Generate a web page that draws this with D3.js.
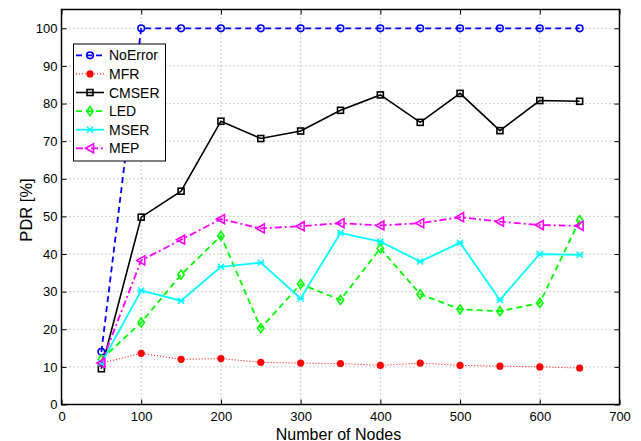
<!DOCTYPE html>
<html><head><meta charset="utf-8">
<script src="https://cdn.jsdelivr.net/npm/d3@7"></script>
<style>body{margin:0;background:#fff}svg{display:block}text{font-family:"Liberation Sans",Arial,Helvetica,sans-serif}</style>
</head><body><div id="c"></div>
<script>
const nodes = [50,100,150,200,250,300,350,400,450,500,550,600,650];
const noError = [14,100,100,100,100,100,100,100,100,100,100,100,100];
const mfr = [11,13.6,12,12.2,11.2,11,10.9,10.4,11,10.4,10.2,10,9.7];
const cmser = [9.5,49.8,56.7,75.3,70.7,72.7,78.2,82.3,75,82.7,72.8,80.8,80.6];
const led = [12,21.8,34.5,44.8,20.3,32,27.8,41.5,29.3,25.3,24.8,27,49];
const mser = [11,30.3,27.6,36.6,37.7,28.2,45.6,43.3,38,43,27.8,40,39.8];
const mep = [11,38.3,43.8,49.3,46.8,47.4,48.2,47.6,48.2,49.8,48.6,47.7,47.5];
const xTicks = [0,100,200,300,400,500,600,700];
const yTicks = [0,10,20,30,40,50,60,70,80,90,100];
const seriesNames = ["NoError","MFR","CMSER","LED","MSER","MEP"];

const W=641,H=441;
const L=61.5,R=619.5,T=9.5,B=404.5;
const svg=d3.select("#c").append("svg").attr("width",W).attr("height",H);
const x=d3.scaleLinear().domain([0,700]).range([L,R]);
const y=d3.scaleLinear().domain([0,105]).range([B,T]);

// grid
const g=svg.append("g");
g.selectAll(".gx").data(xTicks.slice(1,-1)).enter().append("line")
 .attr("x1",d=>x(d)).attr("x2",d=>x(d)).attr("y1",T).attr("y2",B)
 .attr("stroke","#a0a0a0").attr("stroke-width",1).attr("stroke-dasharray","1,3");
g.selectAll(".gy").data(yTicks.slice(1)).enter().append("line")
 .attr("y1",d=>y(d)).attr("y2",d=>y(d)).attr("x1",L).attr("x2",R)
 .attr("stroke","#a0a0a0").attr("stroke-width",1).attr("stroke-dasharray","1,3");

// axes
const ax=svg.append("g").attr("transform",`translate(0,${B})`).call(d3.axisBottom(x).tickValues(xTicks).tickSizeInner(-5).tickSizeOuter(0).tickPadding(7));
const ay=svg.append("g").attr("transform",`translate(${L},0)`).call(d3.axisLeft(y).tickValues(yTicks).tickSizeInner(-5).tickSizeOuter(0).tickPadding(4));
const ax2=svg.append("g").attr("transform",`translate(0,${T})`).call(d3.axisTop(x).tickValues(xTicks).tickSizeInner(-5).tickSizeOuter(0).tickFormat(""));
const ay2=svg.append("g").attr("transform",`translate(${R},0)`).call(d3.axisRight(y).tickValues(yTicks).tickSizeInner(-5).tickSizeOuter(0).tickFormat(""));
[ax,ay,ax2,ay2].forEach(a=>{a.select(".domain").remove();a.selectAll("line").attr("stroke","#000");a.selectAll("text").attr("font-size",13).attr("fill","#000").attr("font-family","Liberation Sans, Arial, sans-serif");});
svg.append("rect").attr("x",L).attr("y",T).attr("width",R-L).attr("height",B-T).attr("fill","none").attr("stroke","#000").attr("stroke-width",1.5);

svg.append("text").attr("x",(L+R)/2-2).attr("y",439.5).attr("text-anchor","middle").attr("font-size",16).text("Number of Nodes");
svg.append("text").attr("transform",`translate(32,210) rotate(-90)`).attr("text-anchor","middle").attr("font-size",16.5).text("PDR [%]");

// markers
function marker(sel,type,color,cx,cy){
  if(type==="circle") sel.append("circle").attr("cx",cx).attr("cy",cy).attr("r",3.3).attr("fill","none").attr("stroke",color).attr("stroke-width",1.6);
  else if(type==="dot") sel.append("circle").attr("cx",cx).attr("cy",cy).attr("r",3.6).attr("fill",color);
  else if(type==="square") sel.append("rect").attr("x",cx-3).attr("y",cy-3).attr("width",6).attr("height",6).attr("fill","none").attr("stroke",color).attr("stroke-width",1.6);
  else if(type==="diamond") sel.append("path").attr("d",`M${cx},${cy-4.5}L${cx+3.2},${cy}L${cx},${cy+4.5}L${cx-3.2},${cy}Z`).attr("fill","none").attr("stroke",color).attr("stroke-width",1.6);
  else if(type==="x") sel.append("path").attr("d",`M${cx-3},${cy-3}L${cx+3},${cy+3}M${cx-3},${cy+3}L${cx+3},${cy-3}M${cx-3.5},${cy}L${cx+3.5},${cy}`).attr("stroke",color).attr("stroke-width",1.5);
  else if(type==="tri") sel.append("path").attr("d",`M${cx-4.5},${cy}L${cx+3.5},${cy-4.5}L${cx+3.5},${cy+4.5}Z`).attr("fill","none").attr("stroke",color).attr("stroke-width",1.6);
}

const series=[
 {name:"NoError",v:noError,c:"#0000ff",dash:"6,4",w:1.8,m:"circle"},
 {name:"MFR",v:mfr,c:"#ff0000",dash:"1,2",w:1,m:"dot"},
 {name:"CMSER",v:cmser,c:"#000000",dash:null,w:1.6,m:"square"},
 {name:"LED",v:led,c:"#00ff00",dash:"6,4",w:1.8,m:"diamond"},
 {name:"MSER",v:mser,c:"#00ffff",dash:null,w:1.8,m:"x"},
 {name:"MEP",v:mep,c:"#ff00ff",dash:"7,3,2,3",w:1.8,m:"tri"}
];
const line=d3.line().x((d,i)=>x(nodes[i])).y(d=>y(d));
const plot=svg.append("g");
series.forEach(s=>{
  const p=plot.append("path").datum(s.v).attr("d",line).attr("fill","none").attr("stroke",s.c).attr("stroke-width",s.w);
  if(s.dash) p.attr("stroke-dasharray",s.dash);
  const mg=plot.append("g");
  s.v.forEach((d,i)=>marker(mg,s.m,s.c,x(nodes[i]),y(d)));
});

// legend
const lg=svg.append("g");
lg.append("rect").attr("x",73.5).attr("y",44).attr("width",92).attr("height",117).attr("fill","#fff").attr("stroke","#000").attr("stroke-width",1);
series.forEach((s,i)=>{
  const yy=55.3+i*18.6;
  const p=lg.append("line").attr("x1",76).attr("x2",104).attr("y1",yy).attr("y2",yy).attr("stroke",s.c).attr("stroke-width",s.w);
  if(s.dash) p.attr("stroke-dasharray",s.dash);
  marker(lg,s.m,s.c,90,yy);
  lg.append("text").attr("x",109).attr("y",yy+5).attr("font-size",14).text(seriesNames[i]);
});
</script></body></html>
